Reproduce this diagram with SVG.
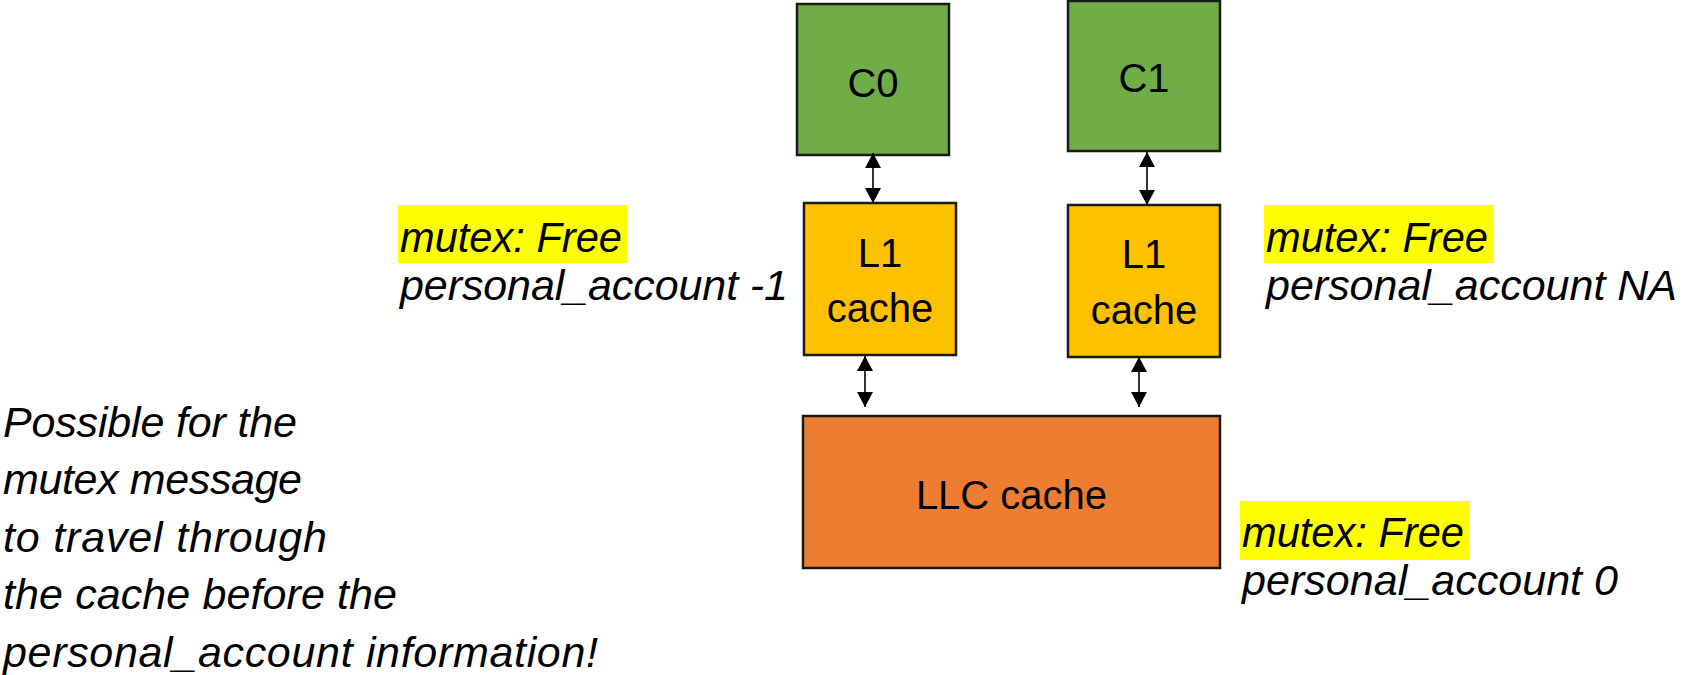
<svg xmlns="http://www.w3.org/2000/svg" width="1683" height="675" viewBox="0 0 1683 675">
  <style>
    .box { stroke: #1a1a1a; stroke-width: 2.5; }
    .core { fill: #70AD47; }
    .l1 { fill: #FFC000; }
    .llc { fill: #ED7D31; }
    .lbl { font-family: "Liberation Sans", Arial, sans-serif; font-size: 40px; fill: #000; text-anchor: middle; }
    .note { font-family: "Liberation Sans", Arial, sans-serif; font-size: 43px; font-style: italic; fill: #000; }
    .hl { fill: #FFFF00; }
    .link { stroke: #000; stroke-width: 1.6; fill: none; marker-start: url(#head); marker-end: url(#head); }
  </style>
  <defs>
    <marker id="head" viewBox="0 0 15 16" refX="15" refY="8" markerWidth="15" markerHeight="16" markerUnits="userSpaceOnUse" orient="auto-start-reverse">
      <path d="M0,0 L15,8 L0,16 z" fill="#000"/>
    </marker>
  </defs>
  <rect width="1683" height="675" fill="#fff"/>

  <!-- cores -->
  <g id="c0">
    <rect class="box core" x="797" y="4" width="152" height="151"/>
    <text class="lbl" x="873" y="97">C0</text>
  </g>
  <g id="c1">
    <rect class="box core" x="1068" y="1" width="152" height="150"/>
    <text class="lbl" x="1144" y="92">C1</text>
  </g>

  <!-- private L1 caches -->
  <g id="l1-left">
    <rect class="box l1" x="804" y="203" width="152" height="152"/>
    <text class="lbl" x="880" y="267">L1</text>
    <text class="lbl" x="880" y="322">cache</text>
  </g>
  <g id="l1-right">
    <rect class="box l1" x="1068" y="205" width="152" height="152"/>
    <text class="lbl" x="1144" y="268">L1</text>
    <text class="lbl" x="1144" y="324">cache</text>
  </g>

  <!-- shared last-level cache -->
  <g id="llc">
    <rect class="box llc" x="803" y="416" width="417" height="152"/>
    <text class="lbl" x="1011.5" y="509">LLC cache</text>
  </g>

  <!-- bidirectional links -->
  <g id="connectors">
    <line class="link" x1="873" y1="153" x2="873" y2="203"/>
    <line class="link" x1="1147" y1="152" x2="1147" y2="205"/>
    <line class="link" x1="865" y1="356" x2="865" y2="407"/>
    <line class="link" x1="1139" y1="357" x2="1139" y2="407"/>
  </g>

  <!-- cache contents -->
  <g id="state-l1-left">
    <rect class="hl" x="398" y="205" width="229" height="58"/>
    <text class="note" x="400" y="252" textLength="222" lengthAdjust="spacingAndGlyphs">mutex: Free</text>
    <text class="note" x="400" y="300" textLength="388">personal_account -1</text>
  </g>
  <g id="state-l1-right">
    <rect class="hl" x="1264" y="205" width="229" height="58"/>
    <text class="note" x="1266" y="252" textLength="222" lengthAdjust="spacingAndGlyphs">mutex: Free</text>
    <text class="note" x="1266" y="300" textLength="411">personal_account NA</text>
  </g>
  <g id="state-llc">
    <rect class="hl" x="1240" y="501" width="229" height="59"/>
    <text class="note" x="1242" y="547" textLength="222" lengthAdjust="spacingAndGlyphs">mutex: Free</text>
    <text class="note" x="1242" y="595" textLength="376">personal_account 0</text>
  </g>

  <!-- explanation -->
  <g id="explanation">
    <text class="note" x="3" y="437" textLength="294">Possible for the</text>
    <text class="note" x="3" y="494" textLength="299">mutex message</text>
    <text class="note" x="3" y="552" textLength="324">to travel through</text>
    <text class="note" x="3" y="609" textLength="394">the cache before the</text>
    <text class="note" x="3" y="667" textLength="595">personal_account information!</text>
  </g>
</svg>
